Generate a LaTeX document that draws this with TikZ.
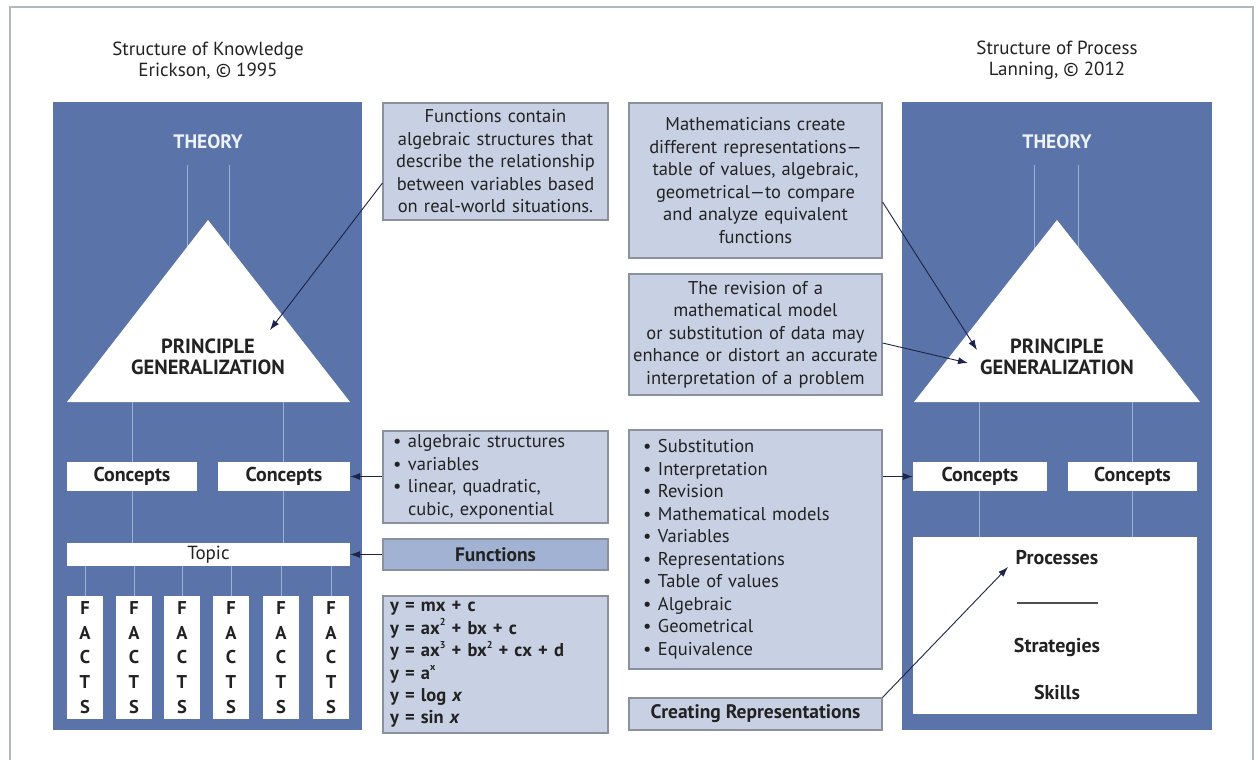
\documentclass[tikz,border=0pt]{standalone}
\usepackage{fontspec}
\setmainfont{PT Sans}
\usetikzlibrary{arrows.meta}
\definecolor{panelblue}{HTML}{5A73A8}
\definecolor{boxfill}{HTML}{C8D1E4}
\definecolor{boxdark}{HTML}{A2B2D2}
\definecolor{boxedge}{HTML}{8A909C}
\definecolor{linec}{HTML}{9DB0D6}
\definecolor{arrowc}{HTML}{1C2448}
\definecolor{framec}{HTML}{B4B8C2}
\definecolor{ink}{HTML}{222222}
\definecolor{theoryc}{HTML}{EEF2FA}
\newcommand{\sups}[1]{\raisebox{0.45em}{\fontsize{10}{10}\selectfont #1}}

\begin{document}
\begin{tikzpicture}[x=1pt,y=-1pt,
  title/.style={align=center, text=ink, inner sep=0pt, font=\fontsize{19}{21}\selectfont},
  panel/.style={fill=panelblue, draw=none, inner sep=0pt},
  theory/.style={text=theoryc, inner sep=0pt, font=\fontsize{19.5}{21}\selectfont\bfseries},
  princ/.style={text=ink, align=center, inner sep=0pt, font=\fontsize{20.5}{21}\selectfont\bfseries},
  vline/.style={draw=linec, line width=1pt},
  wbox/.style={fill=white, draw=none, inner sep=0pt, text=ink, font=\fontsize{20}{20}\selectfont\bfseries},
  topicbox/.style={fill=white, draw=none, inner sep=0pt, text=ink, font=\fontsize{19}{20}\selectfont},
  factbox/.style={fill=white, draw=none, inner sep=0pt, align=center, text=ink,
    minimum width=36pt, minimum height=123pt, font=\fontsize{18.5}{24.75}\selectfont\bfseries},
  mbox/.style={draw=boxedge, fill=boxfill, line width=1.1pt, inner ysep=0pt, text=ink,
    font=\fontsize{18.5}{22.5}\selectfont},
  mboxbold/.style={mbox, font=\fontsize{19.5}{20}\selectfont\bfseries},
  arr/.style={draw=arrowc, line width=0.9pt, -{Latex[length=10pt,width=7pt]}}
]
\useasboundingbox (0,0) rectangle (1258,760);
\fill[white] (0,0) rectangle (1258,760);
% outer frame
\draw[framec, line width=1.2pt] (10,760) -- (10,7) -- (1253,7) -- (1253,760);

% ---------- left column: structure of knowledge ----------
\node[title] (titleL) at (208,60.5) {Structure of Knowledge\\Erickson, © 1995};
\node[panel, minimum width=309pt, minimum height=628pt] (panelL) at (207.5,416) {};
\node[theory] (theoryL) at (208,142) {THEORY};
\draw[vline] (187,165) -- (187,262);
\draw[vline] (229,165) -- (229,262);
\fill[white] (208,220) -- (350,402) -- (67,402) -- cycle;
\node[princ] (pgL) at (208,356.5) {PRINCIPLE\\GENERALIZATION};
\draw[vline] (132,402) -- (132,543);
\draw[vline] (283,402) -- (283,543);
\node[wbox, minimum width=130pt, minimum height=29pt] (LC1) at (132,476.5) {Concepts};
\node[wbox, minimum width=132pt, minimum height=29pt] (LC2) at (284,476.5) {Concepts};
\node[topicbox, minimum width=283pt, minimum height=23pt] (topic) at (208.5,554.5) {Topic};
\foreach \i/\x in {1/85,2/134,3/182,4/231,5/281,6/331}{
  \node[factbox] (f\i) at (\x,657.5) {F\\A\\C\\T\\S};
  \draw[vline] (topic.south -| f\i) -- (f\i.north);
}

% ---------- right column: structure of process ----------
\node[title] (titleR) at (1057,60) {Structure of Process\\Lanning, © 2012};
\node[panel, minimum width=310pt, minimum height=628pt] (panelR) at (1057,416) {};
\node[theory] (theoryR) at (1057,142) {THEORY};
\draw[vline] (1034,165) -- (1034,262);
\draw[vline] (1078,165) -- (1078,262);
\fill[white] (1057,220) -- (1200,402) -- (914,402) -- cycle;
\node[princ] (pgR) at (1057,356.5) {PRINCIPLE\\GENERALIZATION};
\draw[vline] (979,402) -- (979,537);
\draw[vline] (1132,402) -- (1132,537);
\node[wbox, minimum width=134pt, minimum height=29pt] (RC1) at (980,476.5) {Concepts};
\node[wbox, minimum width=129pt, minimum height=29pt] (RC2) at (1132.5,476.5) {Concepts};
\node[wbox, minimum width=284pt, minimum height=177pt] (proc) at (1055,625.5) {};
\node[wbox] (processes) at (1057,558) {Processes};
\draw[draw=ink!80, line width=1.5pt] (1017,603) -- (1098,603);
\node[wbox] (strategies) at (1057,647) {Strategies};
\node[wbox] (skills) at (1057,692) {Skills};

% ---------- middle boxes ----------
\node[mbox, align=center, inner xsep=2pt, text width=221pt, minimum height=117pt] (A) at (495.5,161.5)
  {Functions contain\\algebraic structures that\\describe the relationship\\between variables based\\on real-world situations.};
\node[mbox, align=center, inner xsep=2pt, text width=249pt, minimum height=155pt] (B) at (755.5,180.5)
  {Mathematicians create\\different representations—\\table of values, algebraic,\\geometrical—to compare\\and analyze equivalent\\functions};
\node[mbox, align=center, inner xsep=2pt, text width=249pt, minimum height=121pt] (C) at (755.5,334.5)
  {The revision of a\\mathematical model\\or substitution of data may\\enhance or distort an accurate\\interpretation of a problem};
\node[mbox, align=left, inner xsep=10pt, text width=205pt, minimum height=92pt] (D) at (495.5,477)
  {\makebox[15pt][l]{•}algebraic structures\\\makebox[15pt][l]{•}variables\\\makebox[15pt][l]{•}linear, quadratic,\\\hspace*{15pt}cubic, exponential};
\node[mboxbold, fill=boxdark, minimum width=225pt, minimum height=31pt] (E) at (495.5,554.5) {Functions};
\node[mbox, align=left, inner xsep=7pt, text width=211pt, minimum height=137pt, font=\fontsize{18.5}{22.4}\selectfont\bfseries] (F) at (495.5,664.5)
  {y = mx + c\\y = ax\sups{2} + bx + c\\y = ax\sups{3} + bx\sups{2} + cx + d\\y = a\sups{x}\\y = log \textit{x}\\y = sin \textit{x}};
\node[mbox, align=left, inner xsep=14pt, text width=225pt, minimum height=239pt] (G) at (755.5,549.5)
  {\makebox[15pt][l]{•}Substitution\\\makebox[15pt][l]{•}Interpretation\\\makebox[15pt][l]{•}Revision\\\makebox[15pt][l]{•}Mathematical models\\\makebox[15pt][l]{•}Variables\\\makebox[15pt][l]{•}Representations\\\makebox[15pt][l]{•}Table of values\\\makebox[15pt][l]{•}Algebraic\\\makebox[15pt][l]{•}Geometrical\\\makebox[15pt][l]{•}Equivalence};
\node[mboxbold, minimum width=253pt, minimum height=32pt] (H) at (755.5,714) {Creating Representations};

% ---------- connectors ----------
\coordinate (tipL) at (270,330);
\coordinate (tipB) at (977,350);
\coordinate (tipC) at (968,363);
\coordinate (tipH) at (1008,567);
\draw[arr] ([yshift=-21.5pt]A.west) -- (tipL);
\draw[arr] ([yshift=-21.5pt]B.east) -- (tipB);
\draw[arr] ([yshift=-8.5pt]C.east) -- (tipC);
\draw[arr] (D.west |- LC2.east) -- (LC2.east);
\draw[arr] (E.west) -- (topic.east);
\draw[arr] (G.east |- RC1.west) -- (RC1.west);
\draw[arr] (H.north east) -- (tipH);
\end{tikzpicture}
\end{document}
